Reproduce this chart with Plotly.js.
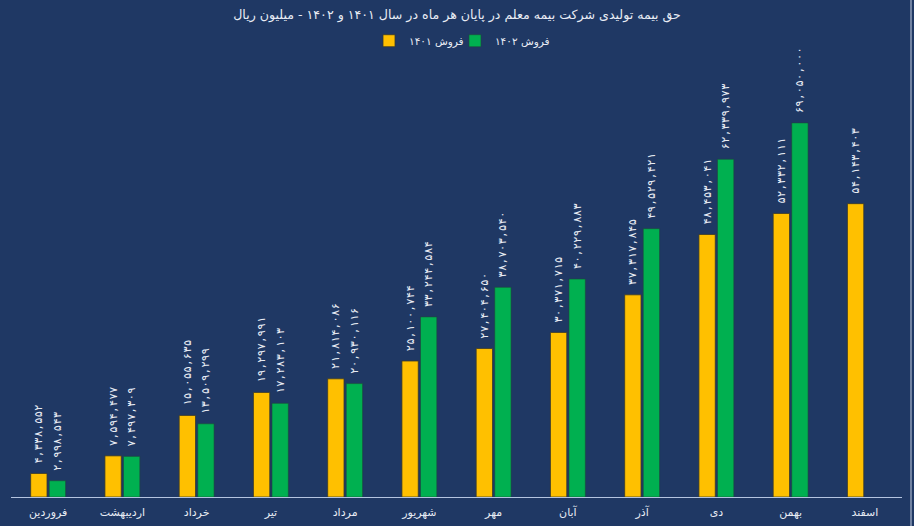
<!DOCTYPE html>
<html>
<head>
<meta charset="utf-8">
<script src="https://cdn.plot.ly/plotly-3.0.1.min.js"></script>
<style>
html,body{margin:0;padding:0;background:#1f3864;}
#chart{width:914px;height:526px;}
</style>
</head>
<body>
<div id="chart"></div>
<script>
const months = ['فروردین','اردیبهشت','خرداد','تیر','مرداد','شهریور','مهر','آبان','آذر','دی','بهمن','اسفند'];
const sales1401 = [4338552, 7594477, 15055635, 19297991, 21814086, 25100744, 27404650, 30371715, 37317845, 48453041, 52332111, 54143403];
const sales1402 = [2998543, 7497309, 13509299, 17283103, 20930116, 33244584, 38703540, 40229883, 49529421, 62339973, 69050000, null];
const name1401 = 'فروش ۱۴۰۱';
const name1402 = 'فروش ۱۴۰۲';
const titleText = 'حق بیمه تولیدی شرکت بیمه معلم در پایان هر ماه در سال ۱۴۰۱ و ۱۴۰۲ - میلیون ریال';

const faDigits = '۰۱۲۳۴۵۶۷۸۹';
function fa(n){
  if(n===null) return '';
  const s = n.toString().replace(/\B(?=(\d{3})+(?!\d))/g, ',');
  return '\u00a0' + s.replace(/\d/g, d => faDigits[+d]);
}

const font = 'DejaVu Sans, sans-serif';
const labelFont = 'DejaVu Sans Mono, DejaVu Sans, monospace';
const common = {
  type:'bar', textposition:'outside', textangle:-90, cliponaxis:false,
  constraintext:'none', textfont:{family:labelFont, size:11, color:'#e8ecf4'},
  hoverinfo:'none'
};
const traces = [
  Object.assign({}, common, {
    x: months, y: sales1401, name: name1401, text: sales1401.map(fa), legend:'legend',
    marker:{color:'#ffc000', line:{color:'#3a3a2a', width:0.8}}
  }),
  Object.assign({}, common, {
    x: months, y: sales1402, name: name1402, text: sales1402.map(fa), legend:'legend2',
    marker:{color:'#00b050', line:{color:'#1f4a3a', width:0.6}}
  })
];

const legendBase = {orientation:'h', xanchor:'left', y:0.895, yanchor:'bottom', yref:'container', xref:'paper',
                    font:{family:font, size:10.5, color:'#e8ecf4'}, itemwidth:30, bgcolor:'rgba(0,0,0,0)'};

const layout = {
  width:914, height:526,
  paper_bgcolor:'#1f3864', plot_bgcolor:'#1f3864',
  margin:{l:11, r:12, t:60, b:29},
  font:{family:font, color:'#e8ecf4'},
  title:{text:titleText, x:0.5, xanchor:'center', y:0.972, yanchor:'middle', font:{family:font, size:12.6, color:'#e8ecf4'}},
  showlegend:true,
  legend:Object.assign({}, legendBase, {x:0.4018}),
  legend2:Object.assign({}, legendBase, {x:0.4983}),
  barmode:'group', bargap:0.5, bargroupgap:0.12,
  xaxis:{showline:true, linecolor:'#b4c4e0', linewidth:1, showgrid:false, zeroline:false,
         ticks:'outside', ticklen:5, tickcolor:'rgba(0,0,0,0)',
         tickfont:{family:font, size:11, color:'#e8ecf4'}, fixedrange:true},
  yaxis:{range:[0, 80.66e6], visible:false, showgrid:false, zeroline:false, fixedrange:true},
  shapes:[{type:'line', xref:'paper', yref:'paper', x0:1.0101, x1:1.0101, y0:-0.07, y1:1.14,
           line:{color:'#8e9cb8', width:1.5}}]
};

Plotly.newPlot('chart', traces, layout, {displayModeBar:false, staticPlot:true});
</script>
</body>
</html>
